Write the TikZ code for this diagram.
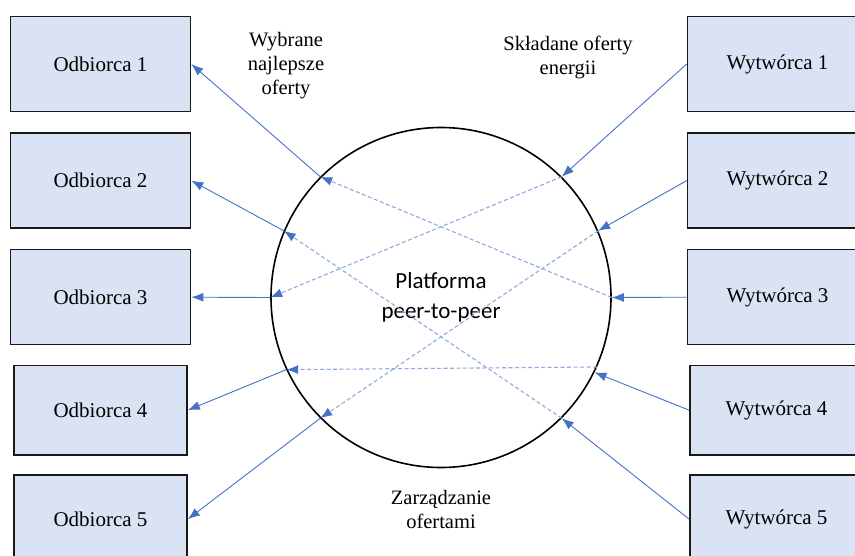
\documentclass[tikz,border=0pt]{standalone}
\usepackage{fontspec}
\setmainfont{Liberation Serif}
\newfontfamily\platfont{Carlito}
\usetikzlibrary{arrows.meta,positioning}
\definecolor{boxfill}{RGB}{218,227,243}
\definecolor{linkblue}{RGB}{68,114,196}
\definecolor{dashblue}{RGB}{143,170,220}
\tikzstyle{blok}=[rectangle,draw=black!90,line width=1.6pt,fill=boxfill,minimum width=180pt,minimum height=95pt,inner sep=3pt,align=center,font=\fontsize{21}{24}\selectfont]
\tikzstyle{blokniski}=[blok,minimum width=173pt,minimum height=89pt]
\tikzstyle{opis}=[align=center,font=\fontsize{20.5}{24}\selectfont]
\tikzstyle{oferta}=[linkblue,line width=0.9pt,-{Latex[length=12pt,width=9pt]}]
\tikzstyle{przeplyw}=[dashblue,line width=1.1pt,dash pattern=on 4pt off 2.5pt,-{Latex[length=12pt,width=9pt,color=linkblue]}]

\begin{document}
\begin{tikzpicture}[x=1pt,y=-1pt,node distance=20pt]
    \useasboundingbox (0,0) rectangle (855,556);
    \clip (0,0) rectangle (855,556);

    % odbiorcy
    \node[blok] (o1) at (100.5,64) {Odbiorca 1};
    \node[blok] (o2) [below=of o1] {Odbiorca 2};
    \node[blok] (o3) [below=of o2] {Odbiorca 3};
    \node[blokniski] (o4) [below=19.4pt of o3] {Odbiorca 4};
    \node[blokniski] (o5) [below=18.4pt of o4] {Odbiorca 5};

    % wytworcy
    \node[blok] (w1) [right=495.4pt of o1] {Wytwórca 1};
    \node[blok] (w2) [below=of w1] {Wytwórca 2};
    \node[blok] (w3) [below=of w2] {Wytwórca 3};
    \node[blokniski] (w4) [right=501.4pt of o4] {Wytwórca 4};
    \node[blokniski] (w5) [right=501.4pt of o5] {Wytwórca 5};

    \node[circle,draw,line width=1.6pt,minimum size=340pt,inner sep=0pt,align=center,
          font=\platfont\fontsize{23}{30}\selectfont] (plat) at (441,297.5) {Platforma\\peer-to-peer};

    \node[opis] (wybrane) at (286,66) {Wybrane\\najlepsze\\oferty};
    \node[opis] (skladane) at (568,57) {Składane oferty\\energii};
    \node[opis] (zarzadzanie) at (441,509) {Zarządzanie\\ofertami};

    \draw[oferta] (w1.west) -- (plat.45);
    \draw[oferta] (w2.west) -- (plat.23);
    \draw[oferta] (w3.west) -- (plat.0);
    \draw[oferta] (w4.west) -- (plat.-26);
    \draw[oferta] (w5.west) -- (plat.-45);

    \draw[przeplyw] (plat.45) -- (plat.180);
    \draw[przeplyw] (plat.23) -- (plat.-135);
    \draw[przeplyw] (plat.0) -- (plat.135);
    \draw[przeplyw] (plat.-24.5) -- (plat.-155.5);
    \draw[przeplyw] (plat.-45) -- (plat.157);

    \draw[oferta] (plat.135) -- (o1.east);
    \draw[oferta] (plat.157) -- (o2.east);
    \draw[oferta] (plat.180) -- (o3.east);
    \draw[oferta] (plat.-155.5) -- (o4.east);
    \draw[oferta] (plat.-135) -- (o5.east);
  \end{tikzpicture}
\end{document}
